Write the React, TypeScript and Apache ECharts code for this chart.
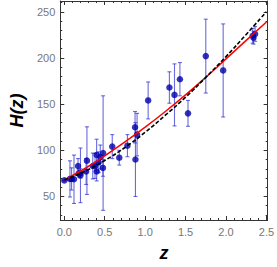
import React, { useEffect, useRef } from "react";
import * as echarts from "echarts";

const zData = [0, 0.07, 0.09, 0.12, 0.17, 0.179, 0.199, 0.2, 0.27, 0.28, 0.352, 0.38, 0.4, 0.4004, 0.425, 0.445, 0.4783, 0.48, 0.593, 0.68, 0.781, 0.875, 0.88, 0.9, 1.037, 1.3, 1.363, 1.43, 1.53, 1.75, 1.965, 2.33, 2.34, 2.36];
const hData = [67.4, 69, 69, 68.6, 83, 75, 75, 72.9, 77, 88.8, 83, 83, 95, 77, 87.1, 92.8, 80.9, 97, 104, 92, 105, 125, 90, 117, 154, 168, 160, 177, 140, 202, 186.5, 224, 222, 226];
const hErr = [0.5, 19.6, 12, 26.2, 8, 4, 5, 29.6, 14, 36.6, 14, 13.5, 17, 10.2, 11.2, 12.9, 9, 62, 13, 8, 12, 17, 40, 23, 20, 17, 33.6, 18, 14, 40, 50.4, 8, 7, 8];

// Model curves
const curveZ = [0, 0.25, 0.5, 0.75, 1.0, 1.25, 1.5, 1.75, 2.0, 2.25, 2.5];
const redH = [68, 80, 94, 109, 125, 142, 160, 179, 199, 219, 239];
const blackH = [68, 77, 89, 103, 119.5, 138, 157.5, 179, 201.5, 225.5, 250];

// Ticks
const xMajor = [0, 0.5, 1.0, 1.5, 2.0, 2.5];
const xMinor = [0.1, 0.2, 0.3, 0.4, 0.6, 0.7, 0.8, 0.9, 1.1, 1.2, 1.3, 1.4, 1.6, 1.7, 1.8, 1.9, 2.1, 2.2, 2.3, 2.4];
const yMajor = [50, 100, 150, 200, 250];
const yMinor = [30, 40, 60, 70, 80, 90, 110, 120, 130, 140, 160, 170, 180, 190, 210, 220, 230, 240, 260];

const X_MIN = -0.05;
const X_MAX = 2.515;
const Y_MIN = 24.5;
const Y_MAX = 261.7;
const FRAME = "#333333";
const FONT = "Liberation Sans";

export default function App() {
  const ref = useRef<HTMLDivElement>(null);

  useEffect(() => {
    if (!ref.current) return;
    const chart = echarts.init(ref.current, null, { renderer: "svg" });

    const mkX = (pos: string, ticks: number[], len: number, labels: boolean, line: boolean, extra: any = {}) => ({
      type: "value",
      min: X_MIN,
      max: X_MAX,
      position: pos,
      axisLine: { show: line, onZero: false, lineStyle: { color: FRAME, width: 1 } },
      axisTick: { show: true, inside: true, length: len, customValues: ticks, lineStyle: { color: FRAME, width: 1 } },
      axisLabel: labels
        ? { show: true, customValues: ticks, formatter: (v: number) => v.toFixed(1), color: "#777", fontSize: 11, fontFamily: FONT, margin: 6 }
        : { show: false },
      splitLine: { show: false },
      ...extra,
    });
    const mkY = (pos: string, ticks: number[], len: number, labels: boolean, line: boolean, extra: any = {}) => ({
      type: "value",
      min: Y_MIN,
      max: Y_MAX,
      position: pos,
      axisLine: { show: line, onZero: false, lineStyle: { color: FRAME, width: 1 } },
      axisTick: { show: true, inside: true, length: len, customValues: ticks, lineStyle: { color: FRAME, width: 1 } },
      axisLabel: labels
        ? { show: true, customValues: ticks, color: "#777", fontSize: 11, fontFamily: FONT, margin: 5 }
        : { show: false },
      splitLine: { show: false },
      ...extra,
    });

    const errData = zData.map((z, i) => [z, hData[i] - hErr[i], hData[i] + hErr[i]]);
    const ptData = zData.map((z, i) => [z, hData[i]]);
    const redData = curveZ.map((z, i) => [z, redH[i]]);
    const blackData = curveZ.map((z, i) => [z, blackH[i]]);

    chart.setOption({
      animation: false,
      grid: { left: 48.5, right: 8, top: 1, bottom: 43, containLabel: false },
      xAxis: [
        mkX("bottom", xMajor, 4, true, true, {
          name: "z",
          nameLocation: "middle",
          nameGap: 24,
          nameTextStyle: { fontSize: 18, fontWeight: "bold", fontStyle: "italic", fontFamily: FONT, color: "#000" },
        }),
        mkX("bottom", xMinor, 2, false, false),
        mkX("top", xMajor, 4, false, true),
        mkX("top", xMinor, 2, false, false),
      ],
      yAxis: [
        mkY("left", yMajor, 4, true, true, {
          name: "H(z)",
          nameLocation: "middle",
          nameGap: 22,
          nameRotate: 90,
          nameTextStyle: { fontSize: 18, fontWeight: "bold", fontStyle: "italic", fontFamily: FONT, color: "#000" },
        }),
        mkY("left", yMinor, 2, false, false),
        mkY("right", yMajor, 4, false, true),
        mkY("right", yMinor, 2, false, false),
      ],
      series: [
        {
          type: "custom",
          xAxisIndex: 0,
          yAxisIndex: 0,
          encode: { x: 0, y: [1, 2] },
          data: errData,
          z: 2,
          renderItem: (params: any, api: any) => {
            const x = api.value(0);
            const p1 = api.coord([x, api.value(1)]);
            const p2 = api.coord([x, api.value(2)]);
            const style = { stroke: "rgba(50,50,210,0.72)", lineWidth: 1.1 };
            const cw = 2;
            return {
              type: "group",
              children: [
                { type: "line", shape: { x1: p1[0], y1: p1[1], x2: p2[0], y2: p2[1] }, style },
                { type: "line", shape: { x1: p1[0] - cw, y1: p1[1], x2: p1[0] + cw, y2: p1[1] }, style },
                { type: "line", shape: { x1: p2[0] - cw, y1: p2[1], x2: p2[0] + cw, y2: p2[1] }, style },
              ],
            };
          },
        },
        {
          type: "scatter",
          xAxisIndex: 0,
          yAxisIndex: 0,
          data: ptData,
          symbolSize: 6.5,
          itemStyle: { color: "#0000aa" },
          z: 3,
        },
        {
          type: "line",
          xAxisIndex: 0,
          yAxisIndex: 0,
          data: redData,
          smooth: true,
          symbol: "none",
          lineStyle: { color: "#ff0000", width: 1.5 },
          z: 4,
        },
        {
          type: "line",
          xAxisIndex: 0,
          yAxisIndex: 0,
          data: blackData,
          smooth: true,
          symbol: "none",
          lineStyle: { color: "#000000", width: 1.6, type: [4, 2] },
          z: 5,
        },
      ],
    });

    return () => chart.dispose();
  }, []);

  return <div ref={ref} style={{ position: "absolute", left: 0, top: 0, width: 277, height: 267 }} />;
}
